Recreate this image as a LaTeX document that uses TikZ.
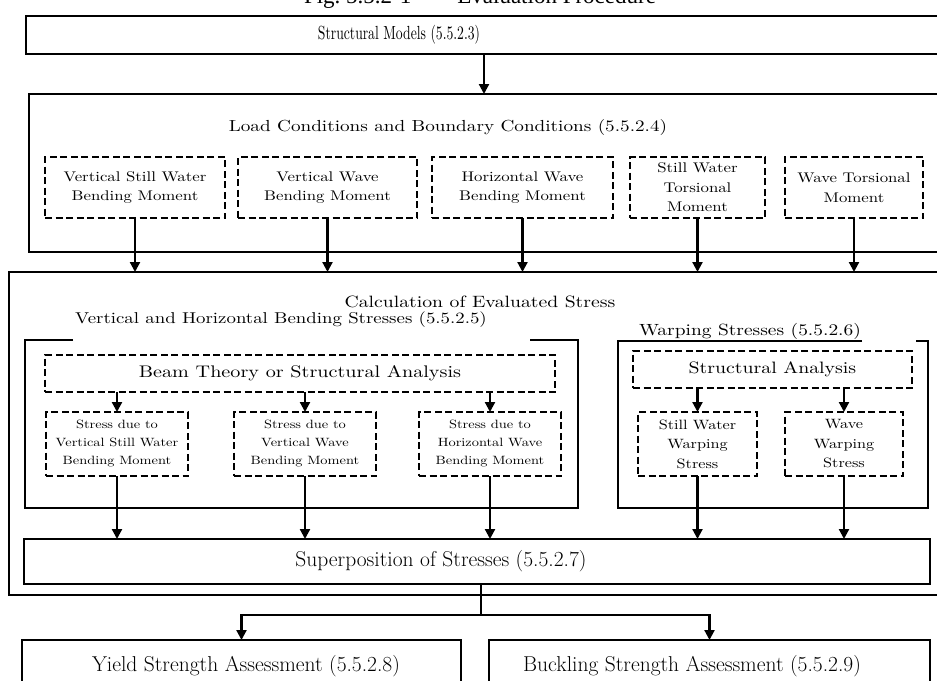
\documentclass[tikz,border=0pt]{standalone}
\usepackage{fontspec}
\usetikzlibrary{arrows.meta}

\newfontfamily\widefont{lmroman10-regular.otf}[FakeStretch=1.2]
\newfontfamily\condfont{lmroman10-regular.otf}[FakeStretch=0.72]
\newfontfamily\figfont{Liberation Serif}

\begin{document}
\begin{tikzpicture}[x=1pt,y=-1pt,
  outerbox/.style={draw,line width=2.8pt,outer sep=0pt,inner sep=0pt},
  frameline/.style={line width=2.8pt},
  dashbox/.style={draw,line width=2.5pt,dash pattern=on 7pt off 3.5pt,
    outer sep=0pt,inner sep=0pt,align=center},
  arr/.style={line width=2.2pt,-{Triangle[length=10pt,width=10pt]}},
  bigtext/.style={font=\fontsize{21.5}{24}\selectfont},
  loadtext/.style={font=\widefont\fontsize{14}{19.5}\selectfont},
  stresstext/.style={font=\widefont\fontsize{12}{18}\selectfont}]

\useasboundingbox (0,0) rectangle (937,680);
\clip (0,0) rectangle (937,680);

% heading, cut by the top edge
\node[font=\figfont\fontsize{23}{26}\selectfont,anchor=base] (fig) at (480,4)
  {Fig.\ 5.5.2-1\qquad Evaluation Procedure};

% structural models
\node[outerbox,anchor=north west,minimum width=930pt,minimum height=38pt] (models) at (26,16) {};
\node[font=\condfont\fontsize{19}{22}\selectfont] (modelsT) at (399,35) {Structural Models (5.5.2.3)};

% load conditions
\coordinate (c0) at (484,0);
\node[outerbox,anchor=north west,minimum width=920pt,minimum height=158pt] (load) at (29,94) {};
\node[font=\widefont\fontsize{16}{18}\selectfont] (loadT) at (448,127) {Load Conditions and Boundary Conditions (5.5.2.4)};
\draw[arr] (models.south -| c0) -- (load.north -| c0);

\node[dashbox,loadtext,minimum width=180pt,minimum height=61pt] (vsw) at (135,187.5) {Vertical Still Water\\Bending Moment};
\node[dashbox,loadtext,minimum width=179pt,minimum height=61pt] (vw) at (327.5,187.5) {Vertical Wave\\Bending Moment};
\node[dashbox,loadtext,minimum width=181pt,minimum height=61pt] (hw) at (522.5,187.5) {Horizontal Wave\\Bending Moment};
\node[dashbox,loadtext,minimum width=135pt,minimum height=61pt] (swt) at (697.5,187.5) {Still Water\\Torsional\\Moment};
\node[dashbox,loadtext,minimum width=138pt,minimum height=61pt] (wt) at (854,187.5) {Wave Torsional\\Moment};

% calculation of evaluated stress
\node[outerbox,anchor=north west,minimum width=940pt,minimum height=323pt] (calc) at (9,272) {};
\node[font=\widefont\fontsize{16.4}{18}\selectfont] (calcT) at (480,302) {Calculation of Evaluated Stress};
\foreach \n in {vsw,vw,hw,swt,wt}
  \draw[arr] (\n.south) -- (\n.south |- calc.north);

% bending stresses
\node[font=\widefont\fontsize{15.7}{18}\selectfont] (vhT) at (281,320) {Vertical and Horizontal Bending Stresses (5.5.2.5)};
\draw[frameline] (73,340) -- (25,340) |- (578,508) |- (530,340);

\node[dashbox,font=\widefont\fontsize{16.8}{20}\selectfont,minimum width=510pt,minimum height=37pt] (beam) at (300,373.5) {Beam Theory or Structural Analysis};
\node[dashbox,stresstext,minimum width=142pt,minimum height=64pt] (svsw) at (117,444) {Stress due to\\Vertical Still Water\\Bending Moment};
\node[dashbox,stresstext,minimum width=142pt,minimum height=64pt] (svw) at (305,444) {Stress due to\\Vertical Wave\\Bending Moment};
\node[dashbox,stresstext,minimum width=142pt,minimum height=64pt] (shw) at (490,444) {Stress due to\\Horizontal Wave\\Bending Moment};
\foreach \n in {svsw,svw,shw}
  \draw[arr] (beam.south -| \n) -- (\n.north);

% warping stresses
\node[font=\widefont\fontsize{16.2}{18}\selectfont] (wpT) at (750,331) {Warping Stresses (5.5.2.6)};
\draw[frameline] (862,341) -- (618,341) |- (928,508) |- (916,341);

\node[dashbox,font=\widefont\fontsize{16.5}{20}\selectfont,minimum width=279pt,minimum height=37pt] (wsa) at (772.5,369.5) {Structural Analysis};
\node[dashbox,font=\widefont\fontsize{13.5}{19.5}\selectfont,minimum width=119pt,minimum height=64pt] (sww) at (697.5,444) {Still Water\\Warping\\Stress};
\node[dashbox,font=\widefont\fontsize{13.5}{19.5}\selectfont,minimum width=118pt,minimum height=64pt] (ww) at (844,444) {Wave\\Warping\\Stress};
\foreach \n in {sww,ww}
  \draw[arr] (wsa.south -| \n) -- (\n.north);

% superposition
\node[outerbox,anchor=north west,minimum width=906pt,minimum height=45pt] (sup) at (24,539) {};
\node[bigtext] (supT) at (441,561.5) {Superposition of Stresses (5.5.2.7)};
\foreach \n in {svsw,svw,shw,sww,ww}
  \draw[arr] (\n.south) -- (\n.south |- sup.north);

% assessments
\coordinate (split) at (481,615);
\node[outerbox,anchor=north west,minimum width=439pt,minimum height=80pt] (yield) at (22,640) {};
\node[bigtext] (yieldT) at (246,666) {Yield Strength Assessment (5.5.2.8)};
\node[outerbox,anchor=north west,minimum width=441pt,minimum height=80pt] (buck) at (489,640) {};
\node[bigtext] (buckT) at (692,666) {Buckling Strength Assessment (5.5.2.9)};
\draw[line width=2.2pt] (sup.south -| split) -- (split);
\draw[arr] (split) -| (yield.north);
\draw[arr] (split) -| (buck.north);
\end{tikzpicture}
\end{document}
